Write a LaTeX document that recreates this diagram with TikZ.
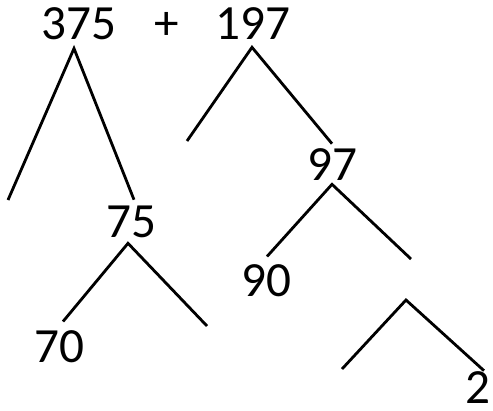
\documentclass[tikz,border=0pt]{standalone}
\usepackage{fontspec}
\setmainfont{Carlito}
\usepackage{tikz}
\usetikzlibrary{calc}

\begin{document}
\begin{tikzpicture}[x=0.02cm, y=-0.02cm, every node/.style={font=\fontsize{28}{33}\selectfont, inner sep=0pt}, branch/.style={line width=1.6pt}]

\useasboundingbox (0,0) rectangle (493,410);

\node (n375) at (79,24) {375};
\node[anchor=base] (plus) at (167,39.5) {+};
\node (n197) at (253,24) {197};
\node (n97) at (332,165) {97};
\node (n75) at (131,222) {75};
\node (n70) at (59,347) {70};
\node (n90) at (266,281) {90};
\node (n2) at (478,388) {2};

\coordinate (l375) at (8,200);
\coordinate (l197) at (187,141);
\coordinate (r97) at (411,259);
\coordinate (r75) at (207,326);
\coordinate (top) at (406,300);
\coordinate (left) at (342,369);

\draw[branch] (l375) -- ([shift={(-5,8)}]n375.south) -- ([shift={(3,-6)}]n75.north);
\draw[branch] (l197) -- ([shift={(-1,7)}]n197.south) -- ([shift={(0,-5)}]n97.north);
\draw[branch] ([shift={(1,-8)}]n90.north) -- ([shift={(0,3)}]n97.south) -- (r97);
\draw[branch] ([shift={(4,-9)}]n70.north) -- ([shift={(-3,5)}]n75.south) -- (r75);
\draw[branch] (left) -- (top) -- ([shift={(6,-1)}]n2.north);

\end{tikzpicture}
\end{document}
